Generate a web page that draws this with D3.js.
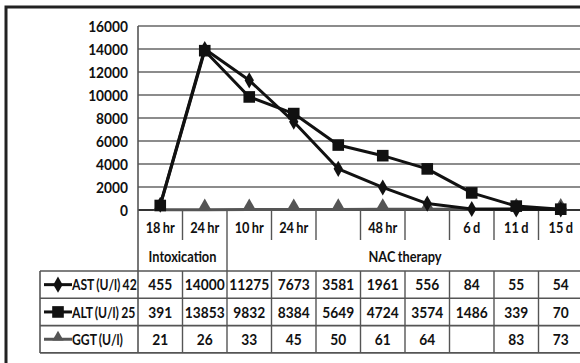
<!DOCTYPE html>
<html>
<head>
<meta charset="UTF-8">
<script src="https://d3js.org/d3.v7.min.js"></script>
<style>
  body { margin: 0; background: #fff; }
  text { font-family: Lato, "Open Sans", sans-serif; font-weight: bold; fill: #111; font-size: 16px; word-spacing: -1px; }
</style>
</head>
<body>
<div id="chart"></div>
<script>
// time points (blank labels in the original)
const categories = ["18 hr", "24 hr", "10 hr", "24 hr", "", "48 hr", "", "6 d", "11 d", "15 d"];
const groups = [
  { name: "Intoxication", from: 0, to: 1 },
  { name: "NAC therapy", from: 2, to: 9 }
];
const astValues = [455, 14000, 11275, 7673, 3581, 1961, 556, 84, 55, 54];
const altValues = [391, 13853, 9832, 8384, 5649, 4724, 3574, 1486, 339, 70];
const ggtValues = [21, 26, 33, 45, 50, 61, 64, null, 83, 73];
const yTicks = [0, 2000, 4000, 6000, 8000, 10000, 12000, 14000, 16000];

const series = [
  { label: "AST (U/l) 42", values: astValues, color: "#111", marker: "diamond" },
  { label: "ALT (U/l) 25", values: altValues, color: "#111", marker: "square" },
  { label: "GGT (U/l)", values: ggtValues, color: "#555", marker: "triangle" }
];

const width = 580, height = 363;
const plotLeft = 138, plotRight = 583, plotTop = 26, plotBottom = 210;
const labelRowY = 227, groupRowY = 256;
const tableTop = 271, rowH = 27.3, tableLeft = 40;
// the original font is a narrow one: squeeze numbers and words a little
const numSqueeze = 0.86, wordSqueeze = 0.8;

const svg = d3.select("#chart").append("svg")
  .attr("width", width).attr("height", height);

const x = d3.scaleBand().domain(d3.range(categories.length)).range([plotLeft, plotRight]);
const y = d3.scaleLinear().domain([0, 16000]).range([plotBottom, plotTop]);
const cx = i => x(i) + x.bandwidth() / 2;

function place(sel, fx, fy, k = numSqueeze) {
  return sel.attr("transform", (d, i) => `translate(${fx(d, i)},${fy(d, i)}) scale(${k},1)`)
    .attr("dy", "0.36em");
}

// outer frame (top and left only visible)
svg.append("path")
  .attr("d", `M6,${height} V7 H${width}`)
  .attr("fill", "none").attr("stroke", "#222").attr("stroke-width", 3);

// gridlines
svg.append("g").selectAll("line").data(yTicks).join("line")
  .attr("x1", plotLeft).attr("x2", plotRight)
  .attr("y1", d => y(d)).attr("y2", d => y(d))
  .attr("stroke", d => d === 0 ? "#333" : "#666")
  .attr("stroke-width", d => d === 0 ? 2 : 1.6);

// y labels
place(svg.append("g").selectAll("text").data(yTicks).join("text"), () => 128, d => y(d))
  .attr("text-anchor", "end")
  .text(d => d);

// left axis line through whole table
svg.append("line")
  .attr("x1", plotLeft).attr("x2", plotLeft)
  .attr("y1", plotTop).attr("y2", tableTop + rowH * 3)
  .attr("stroke", "#555").attr("stroke-width", 1.6);

// category boundaries
const groupEdges = groups.map(g => g.from).filter(i => i > 0);
const bounds = d3.range(1, categories.length);
svg.append("g").selectAll("line").data(bounds).join("line")
  .attr("x1", i => x(i)).attr("x2", i => x(i))
  .attr("y1", plotBottom)
  .attr("y2", i => groupEdges.includes(i) ? tableTop : 240)
  .attr("stroke", "#555").attr("stroke-width", 1.4);

// category labels
place(svg.append("g").selectAll("text").data(categories).join("text"), (d, i) => cx(i), () => labelRowY, wordSqueeze)
  .attr("text-anchor", "middle")
  .text(d => d);

// group labels
place(svg.append("g").selectAll("text").data(groups).join("text"),
    g => (x(g.from) + x(g.to) + x.bandwidth()) / 2, () => groupRowY, wordSqueeze)
  .attr("text-anchor", "middle")
  .text(g => g.name);

// marker symbols
const symbolOf = {
  diamond: d3.symbol().type(d3.symbolDiamond).size(75),
  square: d3.symbol().type(d3.symbolSquare).size(135),
  triangle: d3.symbol().type(d3.symbolTriangle).size(85)
};

// draw GGT first, then AST, ALT on top
[series[2], series[0], series[1]].forEach(s => {
  const pts = s.values.map((v, i) => ({ v, i })).filter(p => p.v != null);
  svg.append("path")
    .attr("d", d3.line().x(p => cx(p.i)).y(p => y(p.v))(pts))
    .attr("fill", "none").attr("stroke", s.color).attr("stroke-width", 3)
    .attr("stroke-linejoin", "round");
  svg.append("g").selectAll("path").data(pts).join("path")
    .attr("d", symbolOf[s.marker])
    .attr("transform", p => `translate(${cx(p.i)},${y(p.v) - (s.marker === "triangle" ? 3 : 0)})`)
    .attr("fill", s.color);
});

// data table
const tableBottom = tableTop + rowH * series.length;
svg.append("g").selectAll("line").data(d3.range(series.length + 1)).join("line")
  .attr("x1", tableLeft).attr("x2", width)
  .attr("y1", r => tableTop + r * rowH).attr("y2", r => tableTop + r * rowH)
  .attr("stroke", "#555").attr("stroke-width", 1.6);
svg.append("line")
  .attr("x1", tableLeft).attr("x2", tableLeft).attr("y1", tableTop).attr("y2", tableBottom)
  .attr("stroke", "#555").attr("stroke-width", 1.6);
svg.append("g").selectAll("line").data(bounds).join("line")
  .attr("x1", i => x(i)).attr("x2", i => x(i))
  .attr("y1", tableTop).attr("y2", tableBottom)
  .attr("stroke", "#555").attr("stroke-width", 1.4);

series.forEach((s, r) => {
  const cy = tableTop + r * rowH + rowH / 2;
  const row = svg.append("g");
  row.append("line")
    .attr("x1", 44).attr("x2", 72).attr("y1", cy).attr("y2", cy)
    .attr("stroke", s.color).attr("stroke-width", 3);
  row.append("path")
    .attr("d", s.marker === "triangle" ? d3.symbol().type(d3.symbolTriangle).size(55)() : symbolOf[s.marker])
    .attr("transform", `translate(58,${cy - (s.marker === "triangle" ? 2 : 0)})`)
    .attr("fill", s.color);
  place(row.append("text"), () => 72, () => cy, 0.76)
    .text(s.label);
  place(row.selectAll("text.v").data(s.values).join("text").attr("class", "v"),
      (d, i) => cx(i), () => cy)
    .attr("text-anchor", "middle")
    .text(d => d == null ? "" : d);
});
</script>
</body>
</html>
